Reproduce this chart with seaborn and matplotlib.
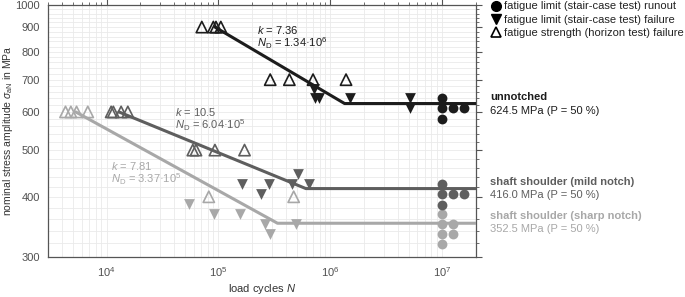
import numpy as np
import pandas as pd
import matplotlib
matplotlib.use('Agg')
import matplotlib.pyplot as plt
from matplotlib.lines import Line2D
from matplotlib.ticker import FixedLocator, NullFormatter
import seaborn as sns

sns.set_style('white')
plt.rcParams['font.family'] = ['Liberation Sans', 'DejaVu Sans']
plt.rcParams['mathtext.fontset'] = 'custom'
plt.rcParams['mathtext.rm'] = 'Liberation Sans'
plt.rcParams['mathtext.it'] = 'Liberation Sans:italic'
plt.rcParams['mathtext.bf'] = 'Liberation Sans:bold'

# colours per specimen type
c_un = '#1c1c1c'
c_mild = '#5e5e5e'
c_sharp = '#a8a8a8'

# unnotched
un_run_N = [1e7, 1e7, 1.25e7, 1.55e7, 1e7]
un_run_S = [640, 610, 610, 610, 580]
un_fail_N = [7.2e5, 7.3e5, 7.9e5, 1.51e6, 5.16e6, 5.16e6]
un_fail_S = [670, 640, 640, 640, 640, 610]
un_hor_N = [7.1e4, 9.0e4, 9.5e4, 1.05e5, 2.9e5, 4.3e5, 7.0e5, 1.38e6]
un_hor_S = [900, 900, 900, 900, 700, 700, 700, 700]
un_line_N = [9.3e4, 1.34e6, 2e7]
un_line_S = [900, 624.5, 624.5]

# shaft shoulder, mild notch
mi_run_N = [1e7, 1e7, 1.25e7, 1.55e7, 1e7]
mi_run_S = [425, 405, 405, 405, 385]
mi_fail_N = [1.64e5, 2.38e5, 2.84e5, 4.51e5, 5.1e5, 6.41e5]
mi_fail_S = [425, 405, 425, 425, 445, 425]
mi_hor_N = [1.1e4, 1.15e4, 1.35e4, 1.55e4, 5.9e4, 6.3e4, 9.3e4, 1.71e5]
mi_hor_S = [600, 600, 600, 600, 500, 500, 500, 500]
mi_line_N = [1.29e4, 6.04e5, 2e7]
mi_line_S = [600, 416, 416]

# shaft shoulder, sharp notch
sh_run_N = [1e7, 1e7, 1.25e7, 1e7, 1.25e7, 1e7]
sh_run_S = [369, 352, 352, 335, 335, 319]
sh_fail_N = [5.45e4, 9.1e4, 1.57e5, 2.58e5, 2.88e5, 4.9e5]
sh_fail_S = [386, 369, 369, 352, 335, 352]
sh_hor_N = [4.3e3, 4.8e3, 5.4e3, 6.8e3, 8.2e4, 4.7e5]
sh_hor_S = [600, 600, 600, 600, 400, 400]
sh_line_N = [5.3e3, 3.37e5, 2e7]
sh_line_S = [600, 352.5, 352.5]

groups = [
    (c_sharp, sh_run_N, sh_run_S, sh_fail_N, sh_fail_S, sh_hor_N, sh_hor_S, sh_line_N, sh_line_S),
    (c_mild, mi_run_N, mi_run_S, mi_fail_N, mi_fail_S, mi_hor_N, mi_hor_S, mi_line_N, mi_line_S),
    (c_un, un_run_N, un_run_S, un_fail_N, un_fail_S, un_hor_N, un_hor_S, un_line_N, un_line_S),
]

fs = 8

fig, ax = plt.subplots(figsize=(6.85, 2.97), dpi=100)
fig.subplots_adjust(left=48/685, right=476/685, top=1-5/297, bottom=1-257/297)

for col, rN, rS, fN, fS, hN, hS, lN, lS in groups:
    sns.lineplot(x=lN, y=lS, ax=ax, color=col, lw=2.2, sort=False, estimator=None, zorder=3)
    sns.scatterplot(x=rN, y=rS, ax=ax, color=col, marker='o', s=50, linewidth=0, zorder=4)
    sns.scatterplot(x=fN, y=fS, ax=ax, color=col, marker='v', s=60, linewidth=0, zorder=4)
    sns.scatterplot(x=hN, y=hS, ax=ax, marker='^', s=66, facecolors='none',
                    edgecolor=col, linewidth=1.2, zorder=4)

ax.set_xscale('log')
ax.set_yscale('log')
ax.set_xlim(3e3, 2e7)
ax.set_ylim(300, 1000)

yt = [300, 400, 500, 600, 700, 800, 900, 1000]
ax.yaxis.set_major_locator(FixedLocator(yt))
ax.set_yticklabels([str(v) for v in yt])
ax.yaxis.set_minor_locator(FixedLocator(list(range(300, 1001, 20))))
ax.yaxis.set_minor_formatter(NullFormatter())

ax.grid(which='both', color='#eaeaea', lw=0.6, zorder=0)
ax.set_axisbelow(True)
for sp in ax.spines.values():
    sp.set_color('#555555')
    sp.set_linewidth(0.9)
ax.tick_params(which='both', colors='#555555', labelcolor='#505050', labelsize=fs,
               top=True, right=True, direction='out', pad=2)
ax.tick_params(which='major', length=4)
ax.tick_params(which='minor', length=2.5)

ax.set_xlabel('load cycles $N$', fontsize=fs, color='#333333', labelpad=2)
ax.set_ylabel(r'nominal stress amplitude $\sigma_\mathrm{aN}$ in MPa', fontsize=7.5,
              color='#333333')
ax.yaxis.set_label_coords(-0.078, 0.5)

# Basquin parameters
ax.text(2.2e5, 887, '$k$ = 7.36', fontsize=fs, color=c_un, va='center')
ax.text(2.2e5, 834, r'$N_\mathrm{D}$ = 1.34·10$^6$', fontsize=fs, color=c_un, va='center')
ax.text(4.1e4, 600, '$k$ = 10.5', fontsize=fs, color=c_mild, va='center')
ax.text(4.1e4, 563, r'$N_\mathrm{D}$ = 6.04·10$^5$', fontsize=fs, color=c_mild, va='center')
ax.text(1.1e4, 463, '$k$ = 7.81', fontsize=fs, color=c_sharp, va='center')
ax.text(1.1e4, 435, r'$N_\mathrm{D}$ = 3.37·10$^5$', fontsize=fs, color=c_sharp, va='center')

# fatigue limit labels on the right
tx = 490 / 685
for col, y1, t1, t2 in [(c_un, 97, 'unnotched', '624.5 MPa (P = 50 %)'),
                        (c_mild, 182, 'shaft shoulder (mild notch)', '416.0 MPa (P = 50 %)'),
                        (c_sharp, 216, 'shaft shoulder (sharp notch)', '352.5 MPa (P = 50 %)')]:
    fig.text(tx, 1 - y1/297, t1, fontsize=fs, color=col, weight='bold', va='center')
    fig.text(tx, 1 - (y1 + 13.5)/297, t2, fontsize=fs, color=col, va='center')

handles = [
    Line2D([], [], ls='', marker='o', color='k', ms=7),
    Line2D([], [], ls='', marker='v', color='k', ms=7),
    Line2D([], [], ls='', marker='^', mfc='none', mec='k', mew=1.2, ms=7),
]
labels = ['fatigue limit (stair-case test) runout',
          'fatigue limit (stair-case test) failure',
          'fatigue strength (horizon test) failure']
fig.legend(handles, labels, loc='upper left', bbox_to_anchor=(490/685, 0.997),
           frameon=False, fontsize=fs, handlelength=0.9, handletextpad=0.35,
           borderaxespad=0, borderpad=0.05, labelspacing=0.3, labelcolor='#222222')

fig.savefig('out.png', dpi=100)
